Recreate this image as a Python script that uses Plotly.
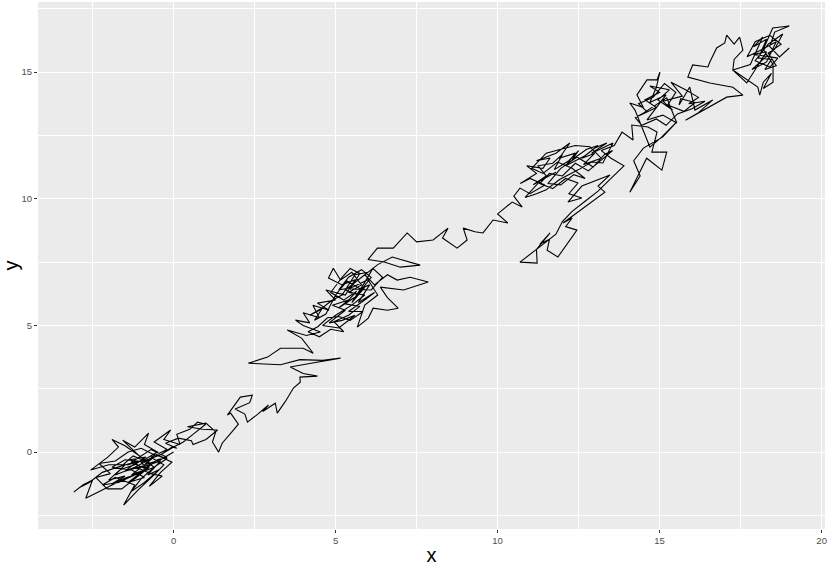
import plotly.graph_objects as go

# random walk path, in drawing order, as (x, y) steps
walk_start = [
    (0.0, 0.0), (-0.4, -0.3), (-0.9, -0.5), (-0.6, -0.2), (-1.2, -0.6), (-1.8, -0.9), (-1.5, -0.5),
    (-2.2, -0.8), (-2.6, -1.2), (-2.9, -1.4), (-3.08, -1.58), (-2.8, -1.3), (-2.5, -1.1), (-2.71, -1.82),
    (-2.2, -1.5), (-1.6, -1.1), (-1.0, -0.8), (-1.4, -1.2), (-0.9, -1.0), (-1.3, -0.7), (-1.9, -0.6),
    (-1.5, -0.3), (-0.8, -0.4), (-1.1, -0.1), (-1.57, 0.47), (-1.2, 0.2), (-0.77, 0.75), (-0.9, 0.3),
    (-0.5, 0.0), (-0.9, -0.3), (-1.4, -0.5), (-2.0, -0.5), (-2.56, -0.71), (-2.03, -0.2), (-1.7, 0.2),
    (-1.9, 0.5), (-1.5, 0.25), (-1.0, -0.2), (-0.6, -0.6), (-1.2, -0.9), (-1.7, -1.2), (-2.2, -1.3),
    (-1.8, -1.0), (-1.2, -1.3), (-1.54, -2.09), (-1.1, -1.5), (-0.6, -0.9), (-0.3, -0.5), (-0.7, -0.2),
    (-0.2, 0.1), (-0.6, 0.4), (-0.09, 0.87), (-0.3, 0.5), (0.2, 0.3), (0.1, 0.7), (0.5, 0.9),
    (0.74, 1.18), (0.99, 1.1), (0.6, 0.7), (0.3, 0.4), (0.0, 0.2), (-0.4, -0.1), (-1.0, -0.4),
    (-0.8, -0.7), (-1.3, -0.4), (-0.7, 0.1), (-0.2, -0.2), (-0.5, -0.3), (-0.9, -0.7), (-1.3, -0.9),
    (-0.95, -0.55), (-1.5, -0.75), (-1.1, -0.35), (-1.6, -0.55), (-1.25, -0.15), (-0.7, -0.45),
    (-1.05, -0.85), (-1.45, -1.0), (-1.9, -1.25), (-1.5, -0.95), (-2.0, -1.1), (-1.65, -0.7),
    (-1.2, -0.5), (-0.85, -0.2), (-1.35, -0.3), (-1.0, -0.6), (-0.4, -0.35), (-0.8, -0.9),
    (-0.45, -0.7), (-0.9, -1.2), (-1.3, -1.55), (-1.0, -1.05), (-0.55, -0.55), (-0.2, -0.25),
    (-0.6, -0.1), (-1.0, 0.15), (-1.4, 0.0), (-1.8, -0.35), (-2.3, -0.45), (-1.95, -0.85),
    (-2.4, -1.0), (-2.05, -1.45), (-1.6, -1.45), (-1.15, -1.0), (-0.75, -0.6), (-1.15, -0.6),
    (-0.7, -0.85), (-0.35, -0.95), (-0.75, -1.35), (-0.4, -0.8), (-0.05, -0.4), (-0.45, -0.15),
    (-0.05, 0.2), (0.1, 0.15), (-0.25, 0.35), (0.15, 0.55), (0.55, 0.45), (0.6, 0.3), (1.0, 0.5),
    (1.36, 0.87), (0.9, 0.9), (0.43, 1.0), (1.0, 1.14),
]
walk_rise = [
    (1.3, 0.8), (1.2, 0.4), (1.39, 0.0), (1.5, 0.35), (1.8, 0.8), (2.0, 1.1), (1.76, 1.54),
    (1.66, 1.46), (2.06, 2.17), (2.43, 2.25), (2.35, 1.95), (1.9, 1.7), (2.2, 1.5), (2.28, 1.18),
    (2.6, 1.5), (2.93, 1.86), (2.75, 1.6), (3.14, 1.93), (3.2, 1.54), (3.45, 2.0), (3.7, 2.53),
    (3.91, 2.76), (3.9, 2.96), (4.44, 3.0), (4.0, 3.1), (3.6, 3.36), (4.2, 3.5), (5.15, 3.71),
    (4.6, 3.62), (3.9, 3.65), (3.3, 3.45), (2.31, 3.51), (2.9, 3.75), (3.3, 4.1), (4.0, 4.1),
    (4.31, 3.9), (3.95, 4.5), (3.51, 4.82), (4.1, 4.6), (4.53, 4.74),
]
walk_middle = [
    (4.0, 5.0), (3.76, 5.21), (4.2, 5.1), (4.0, 5.5), (4.5, 5.3), (4.3, 5.8), (4.8, 5.6),
    (4.44, 5.88), (5.0, 6.0), (4.7, 6.4), (5.3, 6.2), (5.6, 6.8), (5.2, 6.6), (4.78, 6.87),
    (4.93, 7.26), (5.15, 6.79), (5.5, 7.1), (5.8, 6.6), (5.4, 6.3), (5.9, 6.2), (5.5, 5.8),
    (5.0, 5.4), (4.6, 5.0), (5.1, 4.9), (5.6, 5.4), (5.2, 5.2), (4.8, 5.1), (5.3, 5.6),
    (4.9, 5.8), (5.4, 6.0), (5.1, 5.7), (5.7, 6.2), (5.3, 6.4), (5.8, 6.9), (5.5, 6.6),
    (6.0, 7.1), (5.6, 7.0), (5.2, 6.2), (4.9, 6.0), (4.5, 5.6), (4.2, 5.4), (4.6, 5.7),
    (4.35, 5.2), (4.7, 5.45), (5.0, 6.2), (5.35, 6.75), (5.75, 6.45), (6.05, 6.6), (5.7, 5.9),
    (6.2, 6.3), (5.95, 6.05), (5.4, 5.55), (5.85, 5.55), (5.45, 5.2), (5.1, 5.35), (4.75, 5.3),
    (4.45, 4.95), (4.15, 4.75), (4.5, 4.55), (4.85, 4.85), (5.25, 4.75), (4.95, 5.15), (5.4, 5.4),
    (5.75, 5.75), (5.3, 5.85), (5.65, 6.35), (5.25, 6.0), (4.85, 6.3), (5.2, 6.9), (5.45, 7.25),
    (5.75, 7.05), (5.45, 6.45), (6.1, 6.4), (6.45, 6.9), (6.15, 7.25), (5.9, 6.7), (5.5, 5.9),
    (5.9, 6.5), (5.6, 6.1), (6.1, 6.9), (5.8, 7.2), (5.4, 6.9), (5.1, 6.4), (5.5, 6.5),
    (6.0, 6.8), (6.3, 6.2), (5.9, 5.8), (5.67, 4.93), (6.01, 5.29), (6.16, 5.68), (6.6, 5.6),
    (6.93, 5.68), (6.6, 6.1), (6.38, 6.51), (7.1, 6.4), (7.86, 6.71), (7.3, 6.9), (6.9, 6.79),
    (6.6, 7.0), (6.2, 6.6), (5.9, 7.0), (6.3, 7.4), (6.75, 7.7), (7.61, 7.38), (7.0, 7.3),
    (6.5, 7.5), (6.0, 7.6), (6.29, 8.05), (6.78, 8.05), (7.21, 8.65),
]
walk_bridge = [
    (7.5, 8.3), (8.01, 8.37), (8.47, 8.84), (8.3, 8.45), (8.75, 8.05), (9.06, 8.37), (8.94, 8.84),
    (9.3, 8.7), (9.55, 8.65), (9.86, 9.16), (10.32, 9.04), (10.0, 9.4), (10.45, 9.87), (10.76, 9.67),
    (10.5, 10.1), (10.69, 10.42), (11.0, 10.2), (11.46, 10.54),
]
walk_upper = [
    (11.0, 10.8), (10.7, 10.6), (11.2, 11.0), (10.9, 11.3), (11.4, 11.2), (11.62, 11.61),
    (11.2, 11.5), (11.8, 11.8), (12.23, 12.2), (11.9, 11.6), (12.4, 11.8), (12.1, 11.3),
    (12.7, 11.7), (13.0, 12.0), (13.37, 12.2), (12.9, 11.8), (13.56, 12.2), (13.25, 11.41),
    (12.9, 11.45), (12.5, 11.15), (11.9, 10.75), (11.5, 10.35), (11.2, 10.2), (10.85, 10.05),
    (11.35, 10.75), (11.8, 11.05), (11.1, 10.55), (11.5, 10.9), (11.25, 11.3), (11.7, 11.4),
    (12.0, 11.75), (11.75, 11.15), (12.2, 11.5), (12.5, 11.9), (12.3, 11.55), (12.75, 11.95),
    (13.1, 12.1), (12.6, 11.6), (13.0, 11.8), (12.65, 11.35), (13.2, 11.6), (12.85, 12.05),
    (12.4, 12.1), (11.95, 11.95), (11.5, 11.8), (11.05, 11.2), (11.4, 11.0), (11.85, 11.45),
    (12.3, 11.2), (12.7, 10.8), (12.35, 10.95), (11.95, 10.55), (11.55, 10.6), (11.95, 11.2),
    (12.45, 11.65), (12.95, 11.25), (13.3, 11.75), (13.55, 11.9), (12.8, 11.1), (12.4, 11.4),
    (12.0, 10.9), (11.6, 11.0), (11.3, 10.6), (11.7, 10.4), (12.1, 10.8), (12.48, 10.62),
    (12.2, 10.2), (12.6, 10.03), (12.17, 9.87), (12.6, 10.5), (13.0, 10.7), (13.47, 10.94),
    (13.1, 10.5), (13.31, 10.26), (12.02, 9.04), (12.3, 9.24), (12.1, 8.9), (12.45, 8.76),
    (11.86, 7.7), (11.53, 7.97), (11.6, 8.4), (11.3, 8.2), (11.62, 8.65), (11.2, 8.0),
    (11.22, 7.46), (10.69, 7.5), (11.3, 8.1), (11.8, 8.6), (12.0, 9.1), (12.3, 9.5),
    (12.7, 9.9), (13.1, 10.3), (13.5, 10.8), (13.9, 11.3), (13.5, 11.6), (13.2, 11.9),
    (13.6, 12.1), (13.84, 12.63), (14.18, 12.32), (14.14, 12.91), (14.64, 12.83), (14.92, 12.63),
    (14.76, 11.84), (15.22, 11.84), (15.07, 11.13), (14.6, 11.6), (14.08, 10.26), (14.4, 10.9),
    (14.2, 11.5), (14.5, 12.0), (15.1, 12.44), (15.53, 13.03), (15.07, 12.44), (14.7, 12.04),
    (14.24, 13.5),
]
walk_top = [
    (14.08, 13.78), (14.5, 13.6), (14.3, 14.1), (14.61, 14.69), (14.92, 14.69), (15.01, 15.0),
    (14.9, 14.4), (14.7, 13.8), (15.2, 14.1), (14.8, 13.4), (14.61, 13.11), (15.1, 13.3),
    (15.53, 12.99), (15.22, 13.98), (14.4, 13.3), (14.9, 13.6), (14.55, 13.9), (15.0, 14.2),
    (14.7, 14.45), (15.3, 14.3), (14.95, 13.9), (15.4, 13.5), (15.1, 13.85), (15.7, 14.05),
    (15.35, 14.6), (15.8, 14.3), (16.2, 14.0), (15.9, 13.75), (16.4, 13.85), (16.0, 13.55),
    (15.55, 13.35), (15.2, 12.9), (14.9, 13.15), (14.45, 12.9), (14.25, 13.2), (14.6, 13.45),
    (14.35, 13.75), (14.8, 14.0), (15.15, 14.55), (15.5, 14.2), (15.25, 13.7), (15.75, 13.45),
    (16.1, 13.8), (15.65, 13.95), (15.6, 13.7), (15.93, 14.41), (16.09, 13.5), (16.64, 13.9),
    (16.2, 13.4), (15.8, 13.1), (16.5, 13.6), (17.07, 14.01), (17.57, 14.09), (17.26, 14.4),
    (16.55, 14.57), (15.87, 14.8), (16.02, 15.28), (16.49, 15.2), (16.55, 15.4), (16.76, 15.95),
    (17.01, 16.15), (17.07, 16.46), (17.3, 16.1), (17.47, 16.38), (17.57, 15.87), (17.3, 15.5),
    (17.26, 15.08), (17.8, 15.3), (18.18, 16.38), (17.9, 16.0), (18.3, 16.3), (18.05, 15.55),
    (18.45, 15.5), (18.25, 15.1), (18.6, 15.25), (18.35, 15.75), (18.75, 16.1), (18.4, 16.45),
    (17.95, 16.2), (17.7, 15.6), (18.1, 15.85), (18.6, 16.2), (18.3, 15.4), (17.85, 15.1),
    (18.15, 15.45), (18.55, 15.9), (18.8, 16.5), (18.35, 16.1), (17.95, 15.45), (18.4, 15.2),
    (18.65, 15.55), (17.9, 15.7), (18.3, 15.8), (18.0, 15.2), (17.69, 14.57), (17.26, 15.08),
    (18.03, 14.41), (18.09, 14.09), (18.2, 14.6), (18.45, 14.95), (18.2, 14.35), (18.5, 14.6),
    (18.5, 15.3), (18.2, 15.9), (18.49, 16.74), (19.0, 16.82), (18.55, 16.58), (18.4, 16.0),
    (18.7, 15.6), (19.0, 15.95),
]

x_ticks = [0, 5, 10, 15, 20]
y_ticks = [0, 5, 10, 15]

walk = walk_start + walk_rise + walk_middle + walk_bridge + walk_upper + walk_top
xs = [p[0] for p in walk]
ys = [p[1] for p in walk]


def padded(vals, frac=0.05):
    # ggplot-style 5% expansion
    lo, hi = min(vals), max(vals)
    pad = (hi - lo) * frac
    return [lo - pad, hi + pad]


fig = go.Figure()
fig.add_trace(go.Scatter(
    x=xs, y=ys, mode="lines",
    line=dict(color="black", width=1.1),
    hoverinfo="skip", showlegend=False,
))

axis_common = dict(
    showgrid=True, gridcolor="white", gridwidth=1.1,
    zeroline=False, showline=False,
    ticks="outside", ticklen=3, tickwidth=1, tickcolor="#333333",
    tickfont=dict(size=9.5, color="#4D4D4D"),
    minor=dict(dtick=2.5, showgrid=True, gridcolor="white", gridwidth=0.5, ticks=""),
)

fig.update_xaxes(
    range=padded(xs), tickvals=x_ticks, tick0=0,
    title=dict(text="x", font=dict(size=20, color="black"), standoff=6),
    **axis_common,
)
fig.update_yaxes(
    range=padded(ys), tickvals=y_ticks, tick0=0,
    title=dict(text="y", font=dict(size=20, color="black"), standoff=4),
    **axis_common,
)

fig.update_layout(
    width=830, height=566,
    margin=dict(l=38, r=5, t=2, b=37, autoexpand=False),
    plot_bgcolor="#EBEBEB", paper_bgcolor="white",
    font=dict(family="Liberation Sans, Arial, sans-serif"),
)

fig.write_html(
    "out.html",
    config={"displayModeBar": False},
    post_script="document.body.style.margin='0px';",
)
